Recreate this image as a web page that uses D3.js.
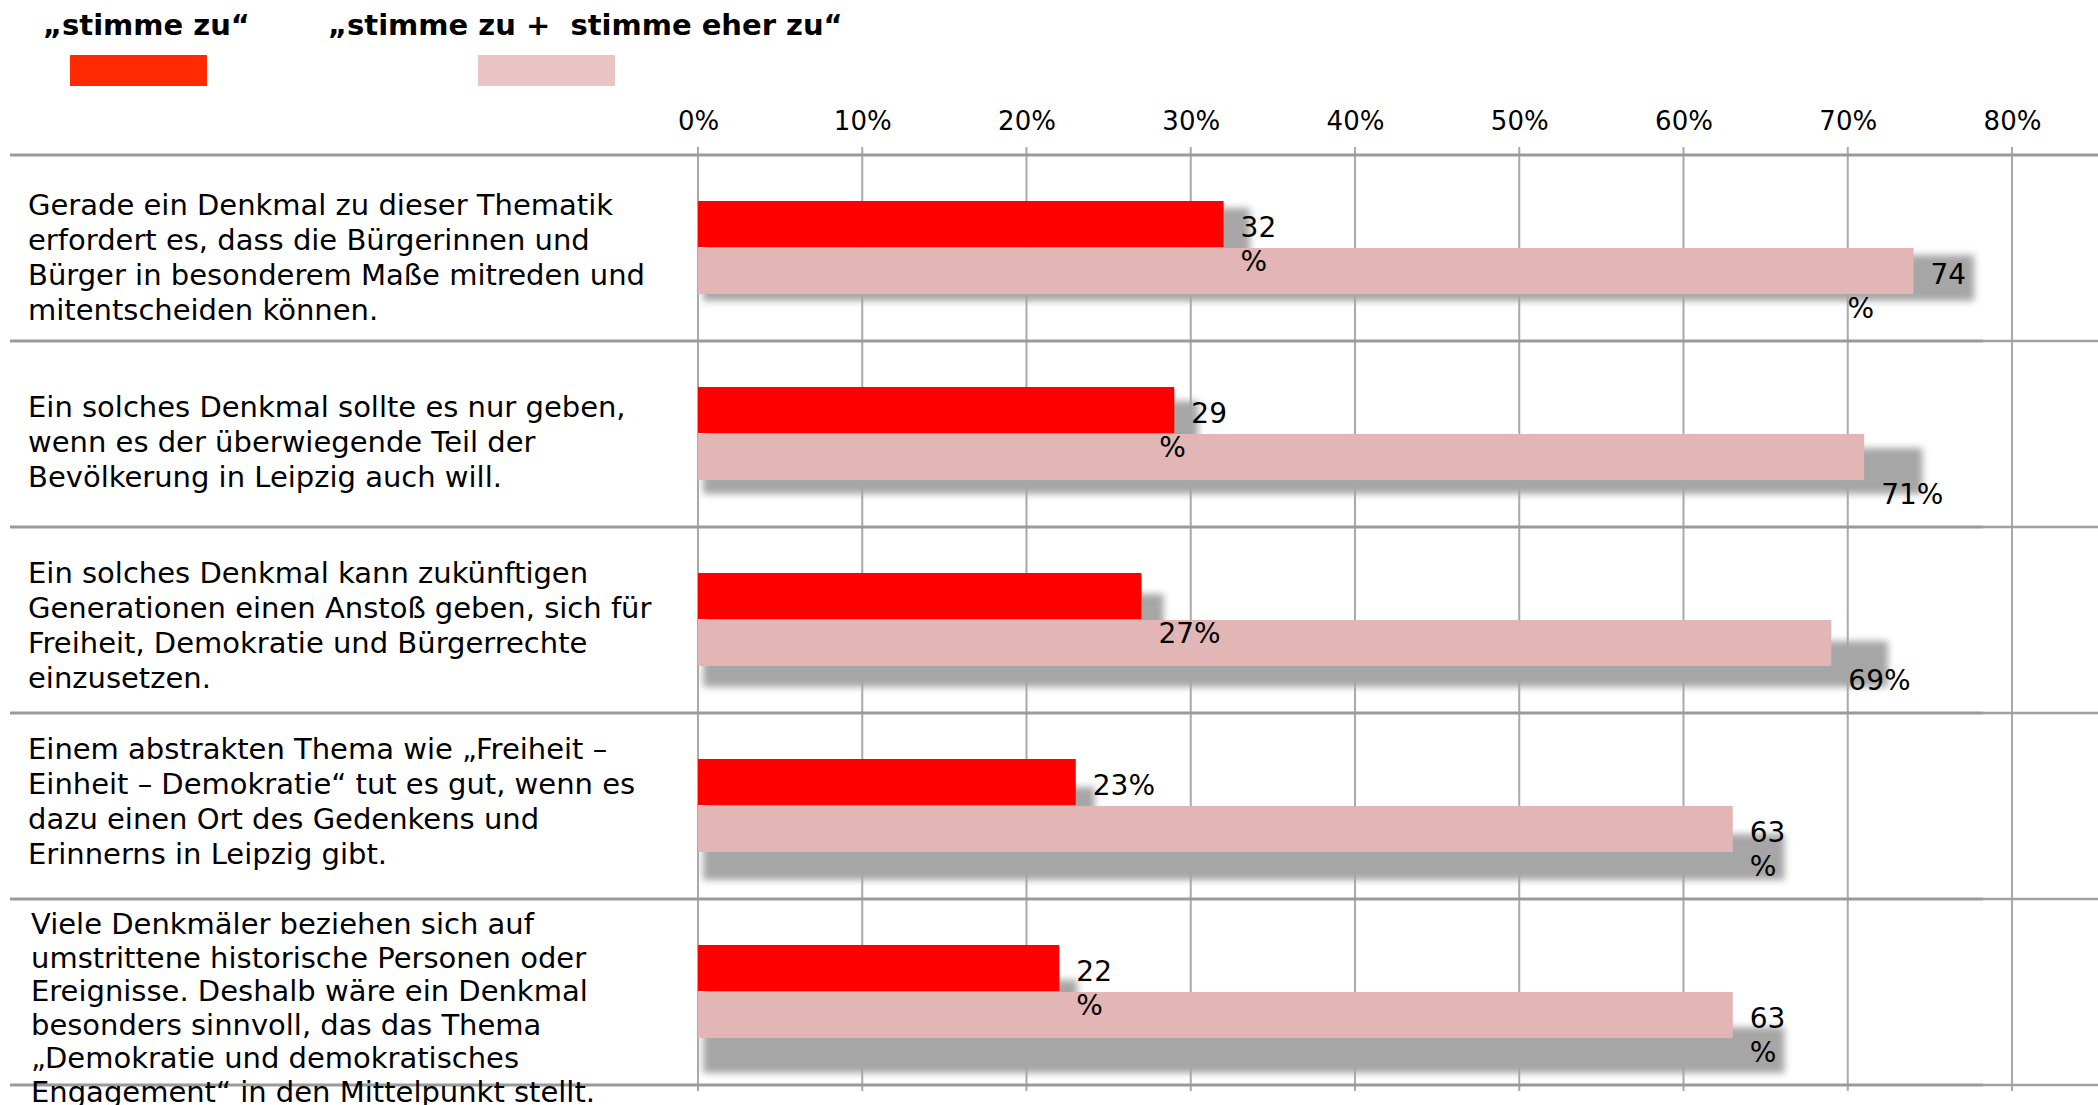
<!DOCTYPE html>
<html><head><meta charset="utf-8">
<script src="https://cdn.jsdelivr.net/npm/d3@7"></script>
<style>body{margin:0;background:#fff} svg{display:block}</style>
</head><body>
<svg id="chart" width="2098" height="1105"></svg>
<script>
// ---- data ----
const categories = [
  ["Gerade ein Denkmal zu dieser Thematik", "erfordert es, dass die Bürgerinnen und", "Bürger in besonderem Maße mitreden und", "mitentscheiden können."],
  ["Ein solches Denkmal sollte es nur geben,", "wenn es der überwiegende Teil der", "Bevölkerung in Leipzig auch will."],
  ["Ein solches Denkmal kann zukünftigen", "Generationen einen Anstoß geben, sich für", "Freiheit, Demokratie und Bürgerrechte", "einzusetzen."],
  ["Einem abstrakten Thema wie „Freiheit –", "Einheit – Demokratie“ tut es gut, wenn es", "dazu einen Ort des Gedenkens und", "Erinnerns in Leipzig gibt."],
  ["Viele Denkmäler beziehen sich auf", "umstrittene historische Personen oder", "Ereignisse. Deshalb wäre ein Denkmal", "besonders sinnvoll, das das Thema", "„Demokratie und demokratisches", "Engagement“ in den Mittelpunkt stellt."]
];
const seriesNames = ["„stimme zu“", "„stimme zu +  stimme eher zu“"];
const stimmeZu = [32, 29, 27, 23, 22];
const stimmeZuEherZu = [74, 71, 69, 63, 63];
const tickValues = [0, 10, 20, 30, 40, 50, 60, 70, 80];
const tickLabels = ["0%", "10%", "20%", "30%", "40%", "50%", "60%", "70%", "80%"];

// ---- presentation (label wrapping as in the original) ----
const labelLayout = [
  [{split: true, line: 0, pctDx: 0}, {split: true, line: 0, pctDx: -83}],
  [{split: true, line: 0, pctDx: -32}, {split: false, line: 1}],
  [{split: false, line: 1}, {split: false, line: 1}],
  [{split: false, line: 0}, {split: true, line: 0, pctDx: 0}],
  [{split: true, line: 0, pctDx: 0}, {split: true, line: 0, pctDx: 0}]
];
const catFirstBaseline = [60, 76, 56, 46, 35];
const catLineGap = [35, 35, 35, 35, 33.5];

const svg = d3.select("#chart");
const FONT = "'DejaVu Sans', Verdana, sans-serif";

const x = d3.scaleLinear().domain([0, 80]).range([698, 2012]);
const y = d3.scaleBand().domain(d3.range(categories.length)).range([155, 1085]).padding(0);

const defs = svg.append("defs");
defs.append("filter").attr("id", "blur").attr("x", "-10%").attr("y", "-50%").attr("width", "120%").attr("height", "200%")
  .append("feGaussianBlur").attr("stdDeviation", 3.5);

// legend
const legendX = [43, 328];
const swatchX = [70, 478];
const legendColors = ["#ff2a00", "#eac4c4"];
seriesNames.forEach((s, i) => {
  svg.append("text").attr("x", legendX[i]).attr("y", 35)
    .attr("font-family", FONT).attr("font-weight", "bold").attr("font-size", 29)
    .attr("fill", "#000").attr("xml:space", "preserve").style("white-space", "pre").text(s);
  svg.append("rect").attr("x", swatchX[i]).attr("y", 55).attr("width", 137).attr("height", 31).attr("fill", legendColors[i]);
});

// gridlines
svg.append("g").selectAll("line").data(tickValues).join("line")
  .attr("x1", d => x(d)).attr("x2", d => x(d)).attr("y1", 147).attr("y2", 1091)
  .attr("stroke", "#a9a9a9").attr("stroke-width", 2);

// tick labels (top axis)
const axis = d3.axisTop(x).tickValues(tickValues).tickFormat((d, i) => tickLabels[i]).tickSize(0).tickPadding(0);
const axG = svg.append("g").attr("transform", "translate(0,130)").call(axis);
axG.select(".domain").remove();
axG.selectAll("text").attr("font-family", FONT).attr("font-size", 26).attr("fill", "#000").attr("dy", 0);

// header + row separators
const sepYs = [155].concat(d3.range(categories.length).map(i => y(i) + y.bandwidth()));
sepYs.forEach((sy, k) => {
  if (k === 0) {
    svg.append("line").attr("x1", 10).attr("x2", 2098).attr("y1", sy).attr("y2", sy).attr("stroke", "#9a9a9a").attr("stroke-width", 3);
  } else {
    svg.append("line").attr("x1", 10).attr("x2", 1983).attr("y1", sy).attr("y2", sy).attr("stroke", "#9a9a9a").attr("stroke-width", 3);
    svg.append("line").attr("x1", 1983).attr("x2", 2098).attr("y1", sy).attr("y2", sy).attr("stroke", "#a0a0a0").attr("stroke-width", 2.5);
  }
});

// bars
const series = [stimmeZu, stimmeZuEherZu];
const barColors = ["#ff0000", "#e3b6b6"];
const barTop = (i, s) => y(i) + 46 + s * 47;
const barH = 46;

const shadowG = svg.append("g").attr("filter", "url(#blur)");
series.forEach((vals, s) => {
  shadowG.selectAll(null).data(vals).join("rect")
    .attr("x", x(0) + 5)
    .attr("y", (d, i) => barTop(i, s) + 7 * (i + 1))
    .attr("width", d => (x(d) - x(0)) * 1.05 - 5)
    .attr("height", barH)
    .attr("fill", "#a6a6a6");
});
series.forEach((vals, s) => {
  svg.append("g").selectAll("rect").data(vals).join("rect")
    .attr("x", x(0))
    .attr("y", (d, i) => barTop(i, s))
    .attr("width", d => x(d) - x(0))
    .attr("height", barH)
    .attr("fill", barColors[s]);
});

// value labels
series.forEach((vals, s) => {
  vals.forEach((v, i) => {
    const L = labelLayout[i][s];
    const tx = x(v) + 17;
    const ty = barTop(i, s) + 36 + L.line * 34;
    const t = svg.append("text").attr("font-family", FONT).attr("font-size", 28).attr("fill", "#000");
    if (L.split) {
      t.append("tspan").attr("x", tx).attr("y", ty).text(String(v));
      t.append("tspan").attr("x", tx + L.pctDx).attr("y", ty + 34).text("%");
    } else {
      t.attr("x", tx).attr("y", ty).text(v + "%");
    }
  });
});

// category labels
categories.forEach((lines, i) => {
  const t = svg.append("text").attr("font-family", FONT).attr("font-size", 29).attr("fill", "#000");
  lines.forEach((ln, k) => {
    t.append("tspan").attr("x", i === 4 ? 31 : 28).attr("y", y(i) + catFirstBaseline[i] + k * catLineGap[i]).text(ln);
  });
});
</script>
</body></html>
